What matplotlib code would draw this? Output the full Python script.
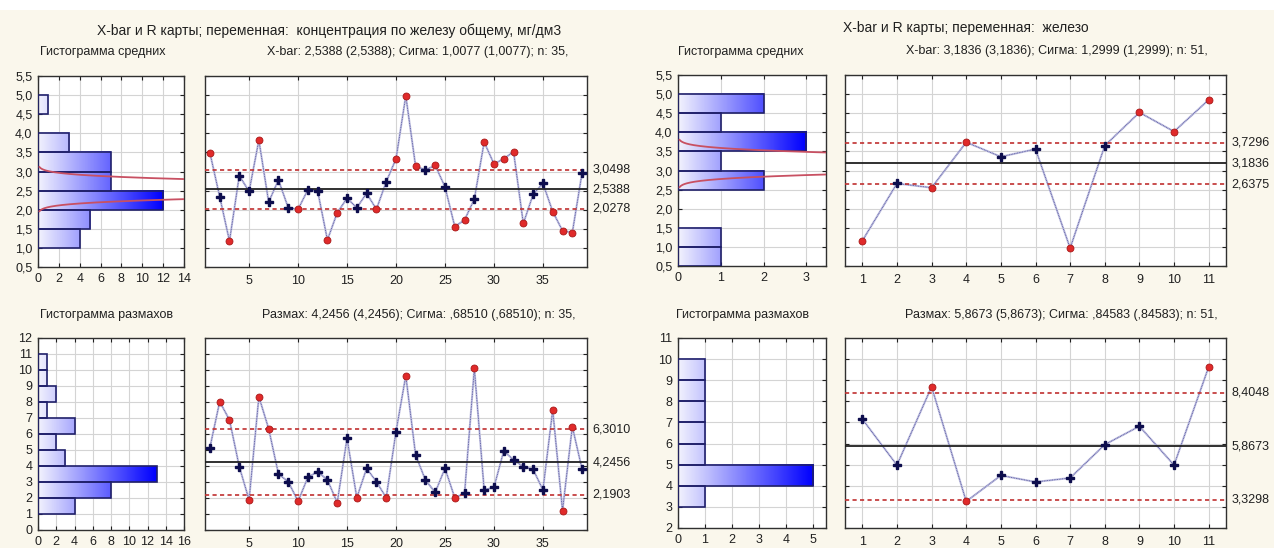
import numpy as np
import matplotlib
matplotlib.use("Agg")
import matplotlib.pyplot as plt
import matplotlib.transforms as mtransforms
from matplotlib.colors import LinearSegmentedColormap
from matplotlib.patches import Rectangle
from matplotlib.ticker import FuncFormatter

plt.rcParams['font.family'] = ['Liberation Sans', 'DejaVu Sans']

W, H = 1274, 548

# ---- left block: концентрация по железу общему ----
xbar1 = [3.49, 2.34, 1.18, 2.89, 2.48, 3.82, 2.20, 2.78, 2.05, 2.01,
         2.52, 2.49, 1.21, 1.92, 2.30, 2.05, 2.43, 2.01, 2.73, 3.33,
         4.98, 3.14, 3.04, 3.16, 2.60, 1.56, 1.73, 2.28, 3.77, 3.20,
         3.33, 3.52, 1.64, 2.40, 2.69, 1.95, 1.45, 1.40, 2.97]
r1 = [5.15, 8.02, 6.88, 3.96, 1.88, 8.33, 6.33, 3.50, 3.02, 1.79,
      3.29, 3.65, 3.13, 1.71, 5.73, 2.02, 3.85, 3.02, 2.02, 6.15,
      9.65, 4.69, 3.13, 2.35, 3.85, 2.02, 2.29, 10.10, 2.50, 2.67,
      4.94, 4.38, 3.96, 3.79, 2.50, 7.50, 1.21, 6.46, 3.79]
xbar1_lim = (2.0278, 2.5388, 3.0498)
r1_lim = (2.1903, 4.2456, 6.3010)
xbar1_hist_lo = [1.0, 1.5, 2.0, 2.5, 3.0, 3.5, 4.0, 4.5]
xbar1_hist_n = [4, 5, 12, 7, 7, 3, 0, 1]
r1_hist_lo = [1, 2, 3, 4, 5, 6, 7, 8, 9, 10]
r1_hist_n = [4, 8, 13, 3, 2, 4, 1, 2, 1, 1]
stats1 = dict(mean=2.5388, sigma=1.0077, n=35)

# ---- right block: железо ----
xbar2 = [1.16, 2.66, 2.55, 3.74, 3.36, 3.56, 0.97, 3.65, 4.52, 4.02, 4.85]
r2 = [7.16, 4.98, 8.69, 3.26, 4.49, 4.18, 4.37, 5.95, 6.82, 4.98, 9.63]
xbar2_lim = (2.6375, 3.1836, 3.7296)
r2_lim = (3.3298, 5.8673, 8.4048)
xbar2_hist_lo = [0.5, 1.0, 1.5, 2.0, 2.5, 3.0, 3.5, 4.0, 4.5]
xbar2_hist_n = [1, 1, 0, 0, 2, 1, 3, 1, 2]
r2_hist_lo = [3, 4, 5, 6, 7, 8, 9]
r2_hist_n = [1, 5, 1, 1, 1, 1, 1]
stats2 = dict(mean=3.1836, sigma=1.2999, n=51)

cream = '#faf7ec'
navy = '#0d0d4d'
red = '#e02a2a'
grid_c = '#d4d4d4'
bar_edge = '#20206a'
cmap = LinearSegmentedColormap.from_list('bars', ['#f2f2fd', '#0000ff'])


def box(x0, y0, x1, y1):
    return [x0 / W, 1 - y1 / H, (x1 - x0) / W, (y1 - y0) / H]


def ftext(x, y, s, size=9.5, ha='left'):
    fig.text(x / W, 1 - y / H, s, ha=ha, va='center', fontsize=size, color='#202020')


def comma(v, pos=None):
    return f'{v:.1f}'.replace('.', ',')


def style(ax):
    ax.set_facecolor('white')
    for sp in ax.spines.values():
        sp.set_color('#303030')
        sp.set_linewidth(1.0)
    ax.tick_params(direction='in', length=3, top=True, right=True,
                   labelsize=9, colors='#202020', pad=4)
    ax.grid(True, color=grid_c, lw=0.8, zorder=0)
    ax.set_axisbelow(True)


def hist_panel(ax, lo, counts, bw, xlim, xticks, ylim, yticks, fmt, curve=None):
    style(ax)
    vmax = max(counts)
    for y0, c in zip(lo, counts):
        if c == 0:
            continue
        grad = np.linspace(0, c / vmax, 64).reshape(1, -1)
        ax.imshow(grad, extent=[0, c, y0, y0 + bw], cmap=cmap, vmin=0, vmax=1,
                  aspect='auto', origin='lower', zorder=2, interpolation='bilinear')
        ax.add_patch(Rectangle((0, y0), c, bw, fill=False, ec=bar_edge, lw=1.2, zorder=3))
    if curve is not None:
        # fitted normal curve of the subgroup means
        s = curve['sigma'] / np.sqrt(curve['n'])
        yy = np.linspace(curve['mean'] - 3.4 * s, curve['mean'] + 3.4 * s, 400)
        xx = sum(counts) * bw / (s * np.sqrt(2 * np.pi)) * np.exp(-0.5 * ((yy - curve['mean']) / s) ** 2)
        ax.plot(xx, yy, color='#c85062', lw=1.3, zorder=4)
    ax.set_xlim(*xlim)
    ax.set_ylim(*ylim)
    ax.set_xticks(xticks)
    ax.set_yticks(yticks)
    ax.yaxis.set_major_formatter(FuncFormatter(fmt))


def chart_panel(ax, values, lims, xlim, xticks, ylim, yticks, lim_fmt):
    style(ax)
    x = np.arange(1, len(values) + 1)
    v = np.array(values)
    lcl, cl, ucl = lims
    ax.plot(x, v, color='#c2c2e2', lw=1.5, zorder=2)
    ax.plot(x, v, color='#4a4a96', lw=0.6, ls=(0, (1, 1)), zorder=3)
    ax.axhline(cl, color='#202020', lw=1.3, zorder=3)
    for lv in (lcl, ucl):
        ax.axhline(lv, color='#c03030', lw=1.2, ls=(0, (2.5, 2)), zorder=3)
    out = (v > ucl) | (v < lcl)
    ax.plot(x[~out], v[~out], 'P', color=navy, mec=navy, ms=5.5, ls='none', zorder=5)
    ax.plot(x[out], v[out], 'o', color=red, mec='#a81818', mew=0.6, ms=5, ls='none', zorder=5)
    ax.set_xlim(*xlim)
    ax.set_ylim(*ylim)
    ax.set_xticks(xticks)
    ax.set_yticks(yticks)
    ax.tick_params(labelleft=False, pad=6)
    tr = mtransforms.blended_transform_factory(ax.transAxes, ax.transData)
    for lv in lims:
        ax.text(1.014, lv, lim_fmt(lv), transform=tr, va='center', ha='left',
                fontsize=9, color='#202020')


fig = plt.figure(figsize=(W / 100, H / 100), dpi=100, facecolor=cream)
fig.add_artist(Rectangle((0, 1 - 10 / H), 1, 10 / H, transform=fig.transFigure,
                         fc='white', ec='none', zorder=-1))

fmt4 = lambda v: f'{v:.4f}'.replace('.', ',')
fmt_int = lambda v, pos=None: f'{v:.0f}'

# top-left
ax = fig.add_axes(box(38, 76, 184, 267))
hist_panel(ax, xbar1_hist_lo, xbar1_hist_n, 0.5, (0, 14), np.arange(0, 15, 2),
           (0.5, 5.5), np.arange(0.5, 5.51, 0.5), comma, curve=stats1)
ax = fig.add_axes(box(205, 76, 587, 267))
chart_panel(ax, xbar1, xbar1_lim, (0.5, 39.5), np.arange(5, 40, 5),
            (0.5, 5.5), np.arange(0.5, 5.51, 0.5), fmt4)

# bottom-left
ax = fig.add_axes(box(38, 338, 184, 530))
hist_panel(ax, r1_hist_lo, r1_hist_n, 1, (0, 16), np.arange(0, 17, 2),
           (0, 12), np.arange(0, 13, 1), fmt_int)
ax = fig.add_axes(box(205, 338, 587, 530))
chart_panel(ax, r1, r1_lim, (0.5, 39.5), np.arange(5, 40, 5),
            (0, 12), np.arange(0, 13, 1), fmt4)

# top-right
ax = fig.add_axes(box(678, 75, 826, 266))
hist_panel(ax, xbar2_hist_lo, xbar2_hist_n, 0.5, (0, 3.46), np.arange(0, 4, 1),
           (0.5, 5.5), np.arange(0.5, 5.51, 0.5), comma, curve=stats2)
ax = fig.add_axes(box(845, 75, 1226, 266))
chart_panel(ax, xbar2, xbar2_lim, (0.5, 11.5), np.arange(1, 12, 1),
            (0.5, 5.5), np.arange(0.5, 5.51, 0.5), fmt4)

# bottom-right
ax = fig.add_axes(box(678, 338, 826, 528))
hist_panel(ax, r2_hist_lo, r2_hist_n, 1, (0, 5.47), np.arange(0, 6, 1),
           (2, 11), np.arange(2, 12, 1), fmt_int)
ax = fig.add_axes(box(845, 338, 1226, 528))
chart_panel(ax, r2, r2_lim, (0.5, 11.5), np.arange(1, 12, 1),
            (2, 11), np.arange(2, 12, 1), fmt4)

# texts
ftext(97, 31, 'X-bar и R карты; переменная:  концентрация по железу общему, мг/дм3', 10)
ftext(40, 52, 'Гистограмма средних', 9)
ftext(267, 52, 'X-bar: 2,5388 (2,5388); Сигма: 1,0077 (1,0077); n: 35,', 9)
ftext(40, 315, 'Гистограмма размахов', 9)
ftext(262, 315, 'Размах: 4,2456 (4,2456); Сигма: ,68510 (,68510); n: 35,', 9)

ftext(843, 28, 'X-bar и R карты; переменная:  железо', 10)
ftext(678, 52, 'Гистограмма средних', 9)
ftext(906, 51, 'X-bar: 3,1836 (3,1836); Сигма: 1,2999 (1,2999); n: 51,', 9)
ftext(676, 315, 'Гистограмма размахов', 9)
ftext(905, 315, 'Размах: 5,8673 (5,8673); Сигма: ,84583 (,84583); n: 51,', 9)

fig.savefig('out.png', dpi=100, facecolor=cream)
